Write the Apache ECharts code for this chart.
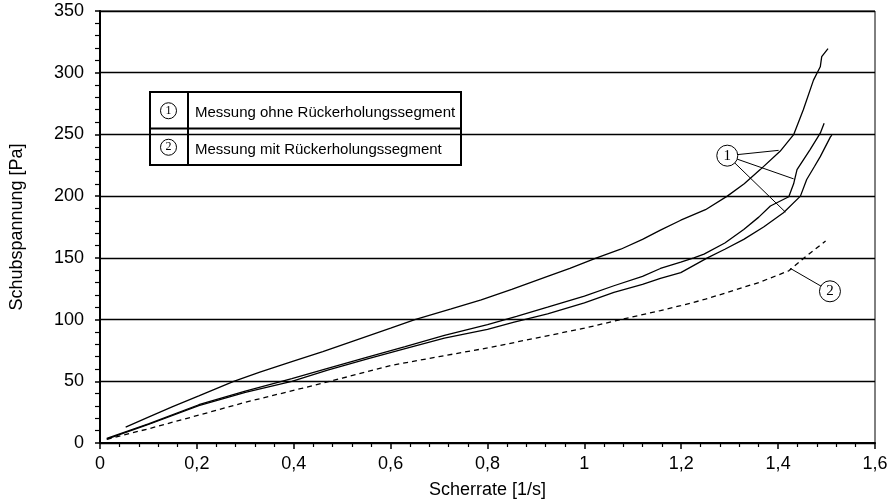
<!DOCTYPE html>
<html>
<head>
<meta charset="utf-8">
<script src="https://cdn.jsdelivr.net/npm/echarts@6/dist/echarts.min.js"></script>
<style>
  html, body { margin: 0; padding: 0; background: #fff; }
  #chart { width: 893px; height: 504px; }
</style>
</head>
<body>
<div id="chart"></div>
<script>
// Shear stress vs. shear rate: three runs without recovery segment, one with it.
const ohneRun1 = [
  [0.053, 12.9], [0.1, 21], [0.15, 29.5], [0.204, 38.2], [0.276, 50], [0.33, 57.5],
  [0.396, 66], [0.46, 74], [0.533, 84], [0.6, 93], [0.65, 100], [0.725, 108.6],
  [0.787, 116], [0.85, 124.5], [0.924, 135], [0.97, 141.5], [1.024, 149.8], [1.075, 157],
  [1.12, 165], [1.157, 172.5], [1.199, 180.5], [1.25, 189], [1.295, 200], [1.33, 210],
  [1.363, 221.5], [1.404, 236.3], [1.432, 249.8], [1.452, 270], [1.473, 294],
  [1.487, 304.8], [1.49, 313], [1.503, 319.5]
];
const ohneRun2 = [
  [0.014, 3.8], [0.1, 15.5], [0.204, 31], [0.3, 42], [0.396, 52.2], [0.47, 60.5],
  [0.554, 69.7], [0.63, 78], [0.711, 87.1], [0.8, 96], [0.86, 102.5], [0.924, 110],
  [1.0, 119], [1.061, 127.4], [1.12, 135], [1.157, 141.4], [1.199, 146.5], [1.226, 150],
  [1.247, 153], [1.29, 162], [1.329, 173], [1.36, 183], [1.384, 192], [1.422, 199.5],
  [1.432, 210], [1.439, 221.5], [1.466, 237.7], [1.487, 251], [1.495, 259]
];
const ohneRun3 = [
  [0.014, 3.2], [0.1, 15], [0.204, 30.3], [0.3, 41], [0.396, 50], [0.47, 59],
  [0.554, 68.3], [0.63, 76.5], [0.711, 85], [0.8, 92], [0.855, 97.9], [0.924, 104.6],
  [1.0, 113.5], [1.061, 122], [1.12, 128.5], [1.157, 133.4], [1.199, 138], [1.254, 150],
  [1.29, 157], [1.329, 165], [1.37, 175], [1.411, 186.6], [1.446, 200], [1.459, 213.5],
  [1.475, 224], [1.487, 232], [1.508, 248], [1.511, 249.5]
];
const mitRun = [
  [0.014, 3], [0.1, 11.5], [0.204, 22.6], [0.3, 33], [0.416, 44.2], [0.5, 52.5],
  [0.602, 62.9], [0.7, 70], [0.8, 77], [0.9, 85], [1.0, 93], [1.075, 100],
  [1.157, 107.3], [1.199, 111.3], [1.25, 116.5], [1.295, 122], [1.36, 130],
  [1.422, 139.5], [1.459, 151.6], [1.498, 163.7]
];

// Callout markers (data coordinates): circle centre and the curve points they point at
const callout1Center = [1.295, 232.8];
const callout1Targets = [[1.401, 237.1], [1.432, 214], [1.415, 187.1]];
const callout2Center = [1.507, 122.9];
const callout2Targets = [[1.425, 141.5]];

const legendMarks = ['1', '2'];
const legendTexts = ['Messung ohne Rückerholungssegment', 'Messung mit Rückerholungssegment'];

const xName = 'Scherrate [1/s]';
const yName = 'Schubspannung [Pa]';

const SANS = '"Liberation Sans", Arial, Helvetica, sans-serif';
const SERIF = '"Liberation Serif", "DejaVu Serif", serif';

const chart = echarts.init(document.getElementById('chart'), null, { renderer: 'canvas' });

const series = [];
[ohneRun1, ohneRun2, ohneRun3].forEach((d, i) => {
  series.push({
    name: 'ohne' + (i + 1), type: 'line', data: d, symbol: 'none', z: 2,
    lineStyle: { color: '#000', width: 1.3 }, silent: true
  });
});
series.push({
  name: 'mit', type: 'line', data: mitRun, symbol: 'none', z: 2,
  lineStyle: { color: '#000', width: 1.3, type: [5, 4] }, silent: true
});

function addCallout(center, targets, mark) {
  targets.forEach(t => {
    series.push({
      type: 'line', data: [center, t], symbol: 'none', z: 3, silent: true,
      lineStyle: { color: '#000', width: 1 }
    });
  });
  series.push({
    type: 'scatter', data: [center], symbol: 'circle', symbolSize: 21, z: 4, silent: true,
    itemStyle: { color: '#fff', borderColor: '#000', borderWidth: 1, opacity: 1 },
    label: {
      show: true, position: 'inside', formatter: mark,
      fontFamily: SERIF, fontSize: 15, color: '#000'
    }
  });
}
addCallout(callout1Center, callout1Targets, legendMarks[0]);
addCallout(callout2Center, callout2Targets, legendMarks[1]);

// Legend table drawn as a bordered two-row box
const boxW = 311, boxH = 73, rowH = boxH / 2, markColW = 38;
const legendChildren = [
  { type: 'rect', shape: { x: 0, y: 0, width: boxW, height: boxH },
    style: { fill: '#fff', stroke: '#000', lineWidth: 2 } },
  { type: 'line', shape: { x1: 0, y1: rowH, x2: boxW, y2: rowH },
    style: { stroke: '#000', lineWidth: 2 } },
  { type: 'line', shape: { x1: markColW, y1: 0, x2: markColW, y2: boxH },
    style: { stroke: '#000', lineWidth: 2 } }
];
legendTexts.forEach((t, i) => {
  const cy = rowH * i + rowH / 2;
  legendChildren.push(
    { type: 'circle', shape: { cx: 18.5, cy: cy + 0.5, r: 8 },
      style: { fill: '#fff', stroke: '#000', lineWidth: 1 } },
    { type: 'text', x: 18.5, y: cy + 0.5,
      style: { text: legendMarks[i], fontFamily: SERIF, fontSize: 12, fill: '#000',
               align: 'center', verticalAlign: 'middle' } },
    { type: 'text', x: 45, y: cy + 3,
      style: { text: t, fontFamily: SANS, fontSize: 15, fill: '#000',
               align: 'left', verticalAlign: 'middle' } }
  );
});

const option = {
  animation: false,
  backgroundColor: '#fff',
  grid: {
    left: 98, right: 18, top: 11, bottom: 59, containLabel: false,
    show: true, borderColor: '#000', borderWidth: 1, backgroundColor: 'transparent'
  },
  xAxis: {
    type: 'value', min: 0, max: 1.6, interval: 0.2,
    name: xName, nameLocation: 'middle', nameGap: 38,
    nameTextStyle: { fontFamily: SANS, fontSize: 18, color: '#000' },
    axisLine: { show: true, onZero: false, lineStyle: { color: '#000', width: 2 } },
    axisTick: { show: true, inside: false, length: 6, lineStyle: { color: '#000', width: 1.5 } },
    minorTick: { show: true, splitNumber: 5, length: 4, lineStyle: { color: '#000', width: 1.2 } },
    splitLine: { show: false },
    minorSplitLine: { show: false },
    axisLabel: {
      margin: 12, fontFamily: SANS, fontSize: 18, color: '#000',
      formatter: v => String(Math.round(v * 10) / 10).replace('.', ',')
    }
  },
  yAxis: {
    type: 'value', min: 0, max: 350, interval: 50,
    name: yName, nameLocation: 'middle', nameGap: 74,
    nameTextStyle: { fontFamily: SANS, fontSize: 18, color: '#000' },
    axisLine: { show: true, onZero: false, lineStyle: { color: '#000', width: 2 } },
    axisTick: { show: true, inside: false, length: 5, lineStyle: { color: '#000', width: 1.5 } },
    minorTick: { show: true, splitNumber: 5, length: 5, lineStyle: { color: '#000', width: 1.2 } },
    splitLine: { show: true, lineStyle: { color: '#000', width: 1.3 } },
    minorSplitLine: { show: false },
    axisLabel: { margin: 16, fontFamily: SANS, fontSize: 18, color: '#000' }
  },
  graphic: [{ type: 'group', x: 150, y: 92, z: 10, children: legendChildren }],
  series: series
};

chart.setOption(option);
</script>
</body>
</html>
